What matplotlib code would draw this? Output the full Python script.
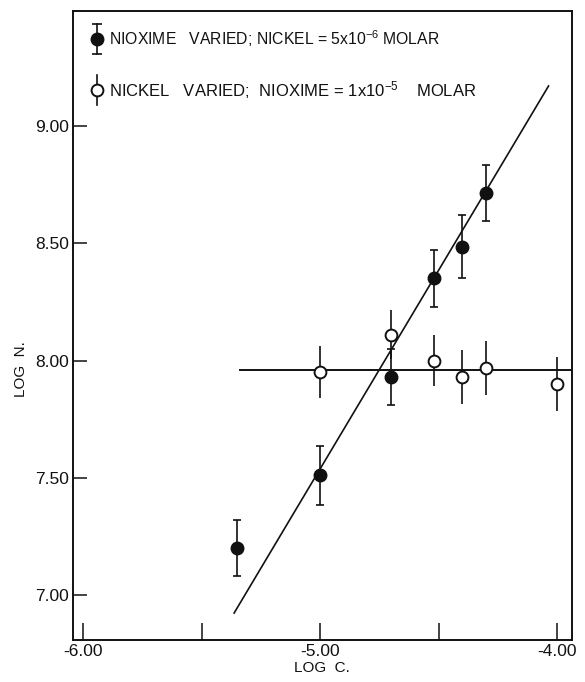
import matplotlib
matplotlib.use("Agg")
import matplotlib.pyplot as plt

# log10 of the varied concentration (molar) vs log N
nioxime_log_c = [-5.35, -5.00, -4.70, -4.52, -4.40, -4.30]
nioxime_log_n = [7.20, 7.51, 7.93, 8.35, 8.485, 8.715]
nioxime_err = [0.12, 0.125, 0.12, 0.12, 0.135, 0.12]

nickel_log_c = [-5.00, -4.70, -4.52, -4.40, -4.30, -4.00]
nickel_log_n = [7.95, 8.11, 8.00, 7.93, 7.97, 7.90]
nickel_err = [0.11, 0.105, 0.11, 0.115, 0.115, 0.115]

# hand-drawn fit lines
slope_fit_c = [-5.363, -4.037]
slope_fit_n = [6.923, 9.171]
flat_fit_c = [-5.337, -3.94]
flat_fit_n = [7.96, 7.96]

x_major = [-6.0, -5.0, -4.0]
x_major_labels = ["-6.00", "-5.00", "-4.00"]
x_minor = [-5.5, -4.5]
y_ticks = [7.0, 7.5, 8.0, 8.5, 9.0]
y_tick_labels = ["7.00", "7.50", "8.00", "8.50", "9.00"]

legend_nioxime = "NIOXIME   VARIED; NICKEL = 5x10$^{-6}$ MOLAR"
legend_nickel = "NICKEL   VARIED;  NIOXIME = 1x10$^{-5}$    MOLAR"

plt.rcParams["font.family"] = ["Liberation Sans", "DejaVu Sans"]
plt.rcParams["mathtext.default"] = "regular"

fig = plt.figure(figsize=(5.85, 6.82), dpi=100)
ax = fig.add_axes([0.125, 0.0616, 0.852, 0.922])

ink = "#111111"

ax.plot(slope_fit_c, slope_fit_n, color=ink, lw=1.2, zorder=2)
ax.plot(flat_fit_c, flat_fit_n, color=ink, lw=1.4, zorder=2)

ax.errorbar(nioxime_log_c, nioxime_log_n, yerr=nioxime_err, fmt="o",
            color=ink, ms=9, capsize=3.2, capthick=1.2, elinewidth=1.2, zorder=4)
ax.errorbar(nickel_log_c, nickel_log_n, yerr=nickel_err, fmt="o",
            color=ink, mfc="white", mec=ink, mew=1.4, ms=8.5,
            capsize=0, elinewidth=1.2, zorder=3)

# legend drawn by hand in axes coordinates
lx, y1, y2, half = 0.0475, 0.9557, 0.875, 0.024
tr = ax.transAxes
ax.plot([lx, lx], [y1 - half, y1 + half], color=ink, lw=1.2, transform=tr)
ax.plot([lx, lx], [y1 - half, y1 + half], ls="none", marker="_", ms=7,
        mew=1.2, color=ink, transform=tr)
ax.plot([lx], [y1], "o", color=ink, ms=9, transform=tr)
ax.plot([lx, lx], [y2 - half, y2 + half], color=ink, lw=1.2, transform=tr)
ax.plot([lx], [y2], "o", mfc="white", mec=ink, mew=1.4, ms=8.5, transform=tr)
ax.text(0.072, y1, legend_nioxime, transform=tr, va="center", ha="left",
        fontsize=11.3, color=ink)
ax.text(0.072, y2, legend_nickel, transform=tr, va="center", ha="left",
        fontsize=12, color=ink)

ax.set_xlim(-6.042, -3.94)
ax.set_ylim(6.808, 9.49)

ax.set_xticks(x_major)
ax.set_xticklabels(x_major_labels)
ax.set_xticks(x_minor, minor=True)
ax.set_yticks(y_ticks)
ax.set_yticklabels(y_tick_labels)
ax.tick_params(axis="x", which="both", direction="in", length=12, width=1.1,
               pad=3, labelsize=12.5, colors=ink)
ax.tick_params(axis="y", direction="in", length=10, width=1.1, pad=3,
               labelsize=12.5, colors=ink)

ax.set_xlabel("LOG  C.", fontsize=11, labelpad=1, color=ink)
ax.set_ylabel("LOG  N.", fontsize=11, color=ink)
ax.yaxis.set_label_coords(-0.09, 0.43)

for s in ax.spines.values():
    s.set_linewidth(1.4)
    s.set_color(ink)

fig.savefig("out.png", dpi=100, facecolor="white")
